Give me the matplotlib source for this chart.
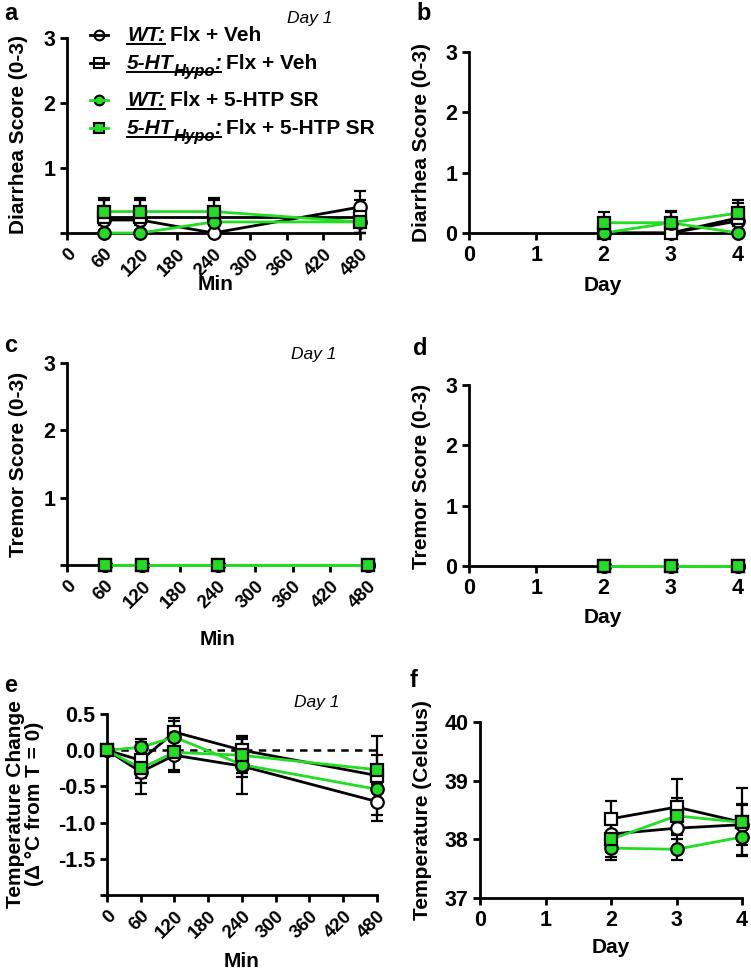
import numpy as np
import matplotlib
matplotlib.use("Agg")
import matplotlib.pyplot as plt

plt.rcParams['font.family'] = ['Liberation Sans', 'DejaVu Sans']
plt.rcParams['font.weight'] = 'bold'
plt.rcParams['axes.labelweight'] = 'bold'

GREEN = '#22dd22'

# series order: WT Veh, 5-HT Hypo Veh, WT 5-HTP SR, 5-HT Hypo 5-HTP SR
min_x = [60, 120, 240, 480]
day_x = [2, 3, 4]
temp_min_x = [0, 60, 120, 240, 480]

# panel a: diarrhea score vs min
a_means = [[0.2, 0.2, 0.0, 0.4],
           [0.25, 0.25, 0.25, 0.25],
           [0.0, 0.0, 0.17, 0.17],
           [0.33, 0.33, 0.33, 0.17]]
a_errs = [[0.17, 0.17, 0.0, 0.25],
          [0.25, 0.25, 0.25, 0.25],
          [0.0, 0.0, 0.17, 0.17],
          [0.21, 0.21, 0.21, 0.17]]

# panel b: diarrhea score vs day
b_means = [[0.0, 0.0, 0.2],
           [0.0, 0.0, 0.25],
           [0.0, 0.17, 0.0],
           [0.17, 0.17, 0.33]]
b_errs = [[0.0, 0.0, 0.2],
          [0.0, 0.0, 0.25],
          [0.0, 0.17, 0.0],
          [0.17, 0.2, 0.21]]

# panels c, d: tremor score (all zero)
c_means = [[0, 0, 0, 0]] * 4
d_means = [[0, 0, 0]] * 4

# panel e: temperature change vs min
e_means = [[0.0, -0.3, -0.07, -0.22, -0.71],
           [0.0, -0.14, 0.25, 0.0, -0.35],
           [0.0, 0.04, 0.18, -0.2, -0.54],
           [0.0, -0.25, -0.03, -0.07, -0.27]]
e_errs = [[0.0, 0.3, 0.2, 0.38, 0.27],
          [0.0, 0.25, 0.2, 0.2, 0.55],
          [0.0, 0.12, 0.22, 0.17, 0.2],
          [0.0, 0.2, 0.27, 0.25, 0.2]]

# panel f: temperature vs day
f_means = [[38.09, 38.19, 38.25],
           [38.35, 38.55, 38.29],
           [37.85, 37.83, 38.04],
           [38.0, 38.4, 38.29]]
f_errs = [[0.3, 0.35, 0.35],
          [0.3, 0.48, 0.58],
          [0.2, 0.18, 0.3],
          [0.3, 0.3, 0.3]]

styles = [dict(marker='o', mfc='white', color='black'),
          dict(marker='s', mfc='white', color='black'),
          dict(marker='o', mfc=GREEN, color=GREEN),
          dict(marker='s', mfc=GREEN, color=GREEN)]

W, H = 751, 972
fig = plt.figure(figsize=(W / 100, H / 100), dpi=100)

# axes boxes in pixels: left, top, right, bottom
rects = {'a': (67, 38, 360, 233), 'b': (469, 52, 738, 233),
         'c': (67, 363, 368, 565), 'd': (469, 385, 738, 566),
         'e': (107, 714, 377, 895), 'f': (480, 722, 742, 898)}


def make_ax(key):
    l, t, r, b = rects[key]
    ax = fig.add_axes([l / W, 1 - b / H, (r - l) / W, (b - t) / H])
    for s in ['top', 'right']:
        ax.spines[s].set_visible(False)
    for s in ['left', 'bottom']:
        ax.spines[s].set_linewidth(2)
    ax.tick_params(width=2, length=5, labelsize=15.5)
    return ax


def pos(key, px, py):
    l, t, r, b = rects[key]
    return (px - l) / (r - l), (b - py) / (b - t)


def draw(ax, xs, means, errs, ymin):
    for m, e, st in zip(means, errs, styles):
        m = np.array(m, float)
        e = np.array(e, float)
        lo = np.minimum(e, m - ymin)
        cont = ax.errorbar(xs, m, yerr=[lo, e], ecolor='black', elinewidth=1.6,
                           capsize=4.5, capthick=1.6, lw=2, color=st['color'],
                           marker=st['marker'], ms=9, mfc=st['mfc'], mec='black',
                           mew=1.6, zorder=3)
        for art in cont.get_children():
            art.set_clip_on(False)


def min_axis(ax):
    ax.set_xlim(0, 480)
    ax.set_xticks(range(0, 481, 60))
    ax.set_xticklabels([str(v) for v in range(0, 481, 60)], rotation=45,
                       ha='right', rotation_mode='anchor', fontsize=13.5)
    ax.tick_params(axis='x', pad=4)


def day_axis(ax):
    ax.set_xlim(0, 4)
    ax.set_xticks(range(5))


def labels(ax, key, xl, xlpos, yl, ylpos, letter, letpos, day1=None):
    ax.set_xlabel(xl, fontsize=15)
    ax.xaxis.set_label_coords(*pos(key, *xlpos))
    ax.set_ylabel(yl, fontsize=15, linespacing=1.0)
    ax.yaxis.set_label_coords(*pos(key, *ylpos))
    fig.text(letpos[0] / W, 1 - letpos[1] / H, letter, fontsize=17,
             weight='bold', ha='left', va='center')
    if day1 is not None:
        fig.text(day1[0] / W, 1 - day1[1] / H, 'Day 1', fontsize=12.5,
                 style='italic', weight='normal', ha='center', va='center')


# a
ax_a = make_ax('a')
draw(ax_a, min_x, a_means, a_errs, 0)
min_axis(ax_a)
ax_a.set_ylim(0, 3)
ax_a.set_yticks([0, 1, 2, 3])
ax_a.set_yticklabels(['', '1', '2', '3'])
labels(ax_a, 'a', 'Min', (216, 275), 'Diarrhea Score (0-3)', (28, 135),
       'a', (4, 14), day1=(310, 18))

# b
ax_b = make_ax('b')
draw(ax_b, day_x, b_means, b_errs, 0)
day_axis(ax_b)
ax_b.set_ylim(0, 3)
ax_b.set_yticks([0, 1, 2, 3])
labels(ax_b, 'b', 'Day', (603, 276), 'Diarrhea Score (0-3)', (431, 142),
       'b', (416, 14))

# c
ax_c = make_ax('c')
draw(ax_c, min_x, c_means, c_means, 0)
min_axis(ax_c)
ax_c.set_ylim(0, 3)
ax_c.set_yticks([0, 1, 2, 3])
ax_c.set_yticklabels(['', '1', '2', '3'])
labels(ax_c, 'c', 'Min', (218, 630), 'Tremor Score (0-3)', (28, 464),
       'c', (4, 346), day1=(314, 355))

# d
ax_d = make_ax('d')
draw(ax_d, day_x, d_means, d_means, 0)
day_axis(ax_d)
ax_d.set_ylim(0, 3)
ax_d.set_yticks([0, 1, 2, 3])
labels(ax_d, 'd', 'Day', (603, 608), 'Tremor Score (0-3)', (431, 476),
       'd', (413, 348))

# e
ax_e = make_ax('e')
ax_e.plot([0, 480], [0, 0], color='black', ls=(0, (3, 2.5)), lw=1.8, zorder=1)
draw(ax_e, temp_min_x, e_means, e_errs, -2)
min_axis(ax_e)
ax_e.set_ylim(-2, 0.5)
e_ticks = [-2.0, -1.5, -1.0, -0.5, 0.0, 0.5]
ax_e.set_yticks(e_ticks)
ax_e.set_yticklabels([''] + ['%.1f' % v for v in e_ticks[1:]])
labels(ax_e, 'e', 'Min', (242, 952), 'Temperature Change\n(\u0394 \u00b0C from T = 0)',
       (44, 804), 'e', (4, 686), day1=(317, 702))

# f
ax_f = make_ax('f')
draw(ax_f, day_x, f_means, f_errs, 37)
day_axis(ax_f)
ax_f.set_ylim(37, 40)
ax_f.set_yticks([37, 38, 39, 40])
labels(ax_f, 'f', 'Day', (611, 938), 'Temperature (Celcius)', (432, 810),
       'f', (410, 680))

# legend in panel a, drawn piece by piece
renderer = fig.canvas.get_renderer()
leg_rows = [(35, 0, 'WT:', None, 'Flx + Veh'),
            (63, 1, '5-HT', 'Hypo', 'Flx + Veh'),
            (100, 2, 'WT:', None, 'Flx + 5-HTP SR'),
            (128, 3, '5-HT', 'Hypo', 'Flx + 5-HTP SR')]
inv = fig.transFigure.inverted()
for py, si, head, sub, tail in leg_rows:
    st = styles[si]
    yb = 1 - (py + 6) / H
    ym = 1 - py / H
    fig.add_artist(plt.Line2D([90 / W, 108 / W], [ym, ym], color=st['color'], lw=2,
                              zorder=5))
    fig.add_artist(plt.Line2D([99 / W], [ym], marker=st['marker'], ms=7,
                              mfc=st['mfc'], mec='black', mew=1.5, ls='none'))
    x0 = 127 / W
    t1 = fig.text(x0, yb, head, fontsize=15, style='italic', weight='bold',
                  va='baseline')
    bb = t1.get_window_extent(renderer)
    xe = inv.transform((bb.x1, bb.y0))[0]
    if sub is not None:
        t2 = fig.text(xe, yb - 7 / H, sub, fontsize=12, style='italic',
                      weight='bold', va='baseline')
        bb2 = t2.get_window_extent(renderer)
        xe = inv.transform((bb2.x1, bb2.y0))[0]
        t3 = fig.text(xe - 1 / W, yb, ':', fontsize=15, style='italic', weight='bold',
                      va='baseline')
        bb3 = t3.get_window_extent(renderer)
        xe = inv.transform((bb3.x1, bb3.y0))[0]
    fig.add_artist(plt.Line2D([x0, xe], [yb - 3 / H, yb - 3 / H], color='black', lw=1.4))
    fig.text(xe + 5 / W, yb, tail, fontsize=15, weight='bold', va='baseline')

fig.savefig('out.png', dpi=100)
